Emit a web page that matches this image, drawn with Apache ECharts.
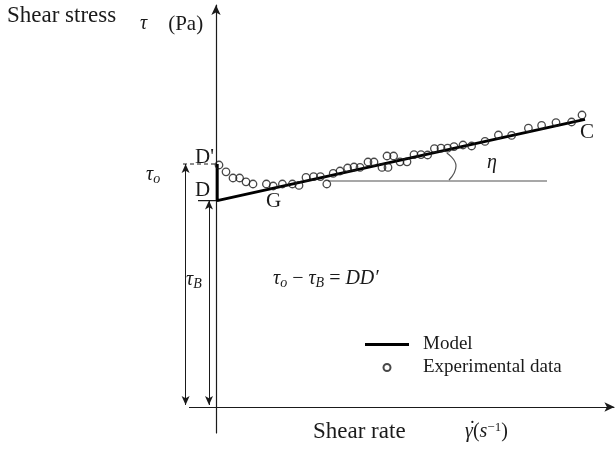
<!DOCTYPE html>
<html>
<head>
<meta charset="utf-8">
<script src="https://cdn.jsdelivr.net/npm/echarts@6/dist/echarts.min.js"></script>
<style>
  html, body { margin: 0; padding: 0; background: #fff; }
  #chart { width: 616px; height: 449px; }
</style>
</head>
<body>
<div id="chart"></div>
<script>
// Experimental flow curve: shear rate (arbitrary units) vs shear stress (Pa)
const expRate = [0.75, 2.5, 4.25, 5.9, 7.5, 9.25, 12.6, 14.3, 16.6, 19.1, 20.75, 22.5, 24.4, 26.1,
  27.7, 29.3, 31, 32.9, 34.5, 36, 38, 39.5, 41.5, 43, 42.75, 44.4, 46, 47.75, 49.5, 51.25, 52.9,
  54.6, 56.25, 57.9, 59.5, 61.75, 63.9, 67.25, 70.6, 73.9, 78.1, 81.4, 85, 88.9, 91.5];
const expStress = [60.5, 58.8, 57.25, 57.25, 56.3, 55.75, 55.75, 55.25, 55.75, 55.75, 55.4, 57.4, 57.6, 57.6,
  55.75, 58.4, 59, 59.75, 60, 59.9, 61.25, 61.25, 59.9, 59.9, 62.75, 62.75, 61.3, 61.3, 63.1, 63.1, 63,
  64.6, 64.7, 64.7, 65.1, 65.5, 65.25, 66.4, 68, 67.9, 69.7, 70.4, 71.1, 71.25, 73];

// Bingham model: stress jump D'D at zero rate, then straight line D -> C
const modelRate = [0.3, 0.3, 92.25];
const modelStress = [60.75, 51.6, 71.9];

// Yield stresses
const tauO = 60.75;   // static (peak) yield stress, level of D'
const tauB = 51.6;    // Bingham yield stress, level of D

// Horizontal reference and the arc marking the slope angle eta
const refRate = [28, 82.75];
const refStress = [56.5, 56.5];
const arcRate = [57.7, 60, 58.25];
const arcStress = [63.5, 60.25, 56.75];

// Shear-rate axis extent (drawn as an arrow along zero stress)
const rateAxisStart = -6.75;
const rateAxisEnd = 99.6;

// Dimension guides on the left
const tauOGuideRate = -7.6;
const tauBGuideRate = -1.75;
const guideFloor = 0.5;
const dashStartRate = -8.25;
const underlineStartRate = -4.5;

const SERIF = '"Liberation Serif", "DejaVu Serif", serif';
const INK = '#1a1a1a';
const zip = (a, b) => a.map((v, i) => [v, b[i]]);

const chart = echarts.init(document.getElementById('chart'), null, { renderer: 'canvas' });

const axisCommon = {
  type: 'value',
  axisTick: { show: false },
  axisLabel: { show: false },
  splitLine: { show: false },
};

const rich = {
  m: { fontFamily: SERIF, fontStyle: 'italic', fontSize: 20, lineHeight: 22, color: INK },
  r: { fontFamily: SERIF, fontSize: 20, lineHeight: 22, color: INK },
  r21: { fontFamily: SERIF, fontSize: 21, lineHeight: 22, color: INK },
  sub: { fontFamily: SERIF, fontStyle: 'italic', fontSize: 14, lineHeight: 13, verticalAlign: 'bottom', color: INK },
  sup: { fontFamily: SERIF, fontSize: 13, lineHeight: 12, verticalAlign: 'top', color: INK },
};

function label(x, y, text, size, useRich) {
  const style = { text, fill: INK, font: (size || 19) + 'px ' + SERIF, verticalAlign: 'middle', align: 'left' };
  if (useRich) style.rich = rich;
  return { type: 'text', x, y, silent: true, style, z: 10 };
}

const option = {
  animation: false,
  backgroundColor: '#fff',
  grid: { left: 180, right: 0, top: 5, bottom: 16 },
  xAxis: Object.assign({}, axisCommon, {
    min: -9, max: 100,
    axisLine: { show: false },
  }),
  yAxis: Object.assign({}, axisCommon, {
    min: -6.5, max: 100.5,
    axisLine: { onZero: true, symbol: ['none', 'arrow'], symbolSize: [7, 10], lineStyle: { color: INK, width: 1.2 } },
  }),
  legend: {
    orient: 'vertical',
    left: 360, top: 330,
    itemWidth: 44, itemHeight: 7, itemGap: 4,
    selectedMode: false,
    textStyle: { fontFamily: SERIF, fontSize: 19, color: INK, padding: [0, 0, 0, 9] },
    data: [
      { name: 'Model', icon: 'path://M0,0L44,0L44,3L0,3Z' },
      { name: 'Experimental data' },
    ],
  },
  series: [
    {
      name: 'Horizontal',
      type: 'line', silent: true, symbol: 'none',
      lineStyle: { color: '#8a8a8a', width: 1.5 },
      data: zip(refRate, refStress), z: 1,
    },
    {
      name: 'Angle',
      type: 'line', silent: true, symbol: 'none', smooth: true,
      lineStyle: { color: '#555', width: 1.2 },
      data: zip(arcRate, arcStress), z: 1,
    },
    {
      name: 'Model',
      type: 'line', silent: true, symbol: 'none',
      lineStyle: { color: '#000', width: 3 },
      itemStyle: { color: '#000' },
      data: zip(modelRate, modelStress), z: 2,
    },
    {
      name: 'Experimental data',
      type: 'scatter', silent: true, symbol: 'circle', symbolSize: 7.5,
      itemStyle: { color: 'rgba(255,255,255,0)', borderColor: INK, borderWidth: 1.3 },
      data: zip(expRate, expStress), z: 4,
    },
    {
      name: 'tauO level',
      type: 'line', silent: true, symbol: 'none',
      lineStyle: { color: INK, width: 1.2, type: [4, 3] },
      data: [[dashStartRate, tauO], [0, tauO]], z: 2,
    },
    {
      name: 'Guides',
      type: 'line', silent: true, symbol: 'none',
      lineStyle: { color: INK, width: 1.2 },
      data: [[underlineStartRate, tauB], [0, tauB]], z: 2,
      markLine: {
        silent: true,
        animation: false,
        label: { show: false },
        symbol: ['arrow', 'arrow'],
        symbolSize: [6, 9],
        lineStyle: { color: INK, width: 1, type: 'solid' },
        data: [
          [{ coord: [tauOGuideRate, tauO] }, { coord: [tauOGuideRate, guideFloor] }],
          [{ coord: [tauBGuideRate, tauB] }, { coord: [tauBGuideRate, guideFloor] }],
          [{ coord: [rateAxisStart, 0], symbol: 'none' },
           { coord: [rateAxisEnd, 0], symbol: 'arrow', symbolSize: [7, 10],
             lineStyle: { width: 1.2 } }],
        ],
      },
    },
  ],
  graphic: [
    label(7, 16, 'Shear stress', 23),
    label(140, 24, '{m|τ}{r21|    (Pa)}', 21, true),
    label(146, 175, '{m|τ}{sub|o}', 20, true),
    label(186, 280, '{m|τ}{sub|B}', 20, true),
    label(195, 157, "D'", 21),
    label(195, 190, 'D', 21),
    label(266, 201, 'G', 21),
    label(580, 132, 'C', 21),
    label(487, 163, '{m|η}', 20, true),
    label(273, 279, '{m|τ}{sub|o}{r| − }{m|τ}{sub|B}{r| = }{m|DD′}', 20, true),
    label(313, 432, 'Shear rate', 23),
    label(469, 430, '˙', 20),
    label(465, 432, '{m|γ}{r|(}{m|s}{sup|−1}{r|)}', 20, true),
  ],
};

chart.setOption(option);
</script>
</body>
</html>
